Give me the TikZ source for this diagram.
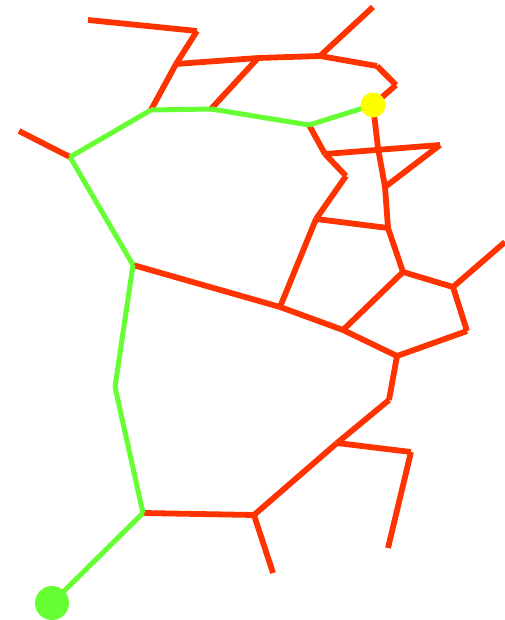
\documentclass[tikz,border=0pt]{standalone}
\begin{document}
\begin{tikzpicture}[x=1pt,y=-1pt,
  redline/.style={draw={rgb,255:red,255;green,51;blue,0},line width=5.8pt},
  greenline/.style={draw={rgb,255:red,102;green,255;blue,51},line width=5pt},
  dotnode/.style={circle,inner sep=0pt,draw=none}]
\useasboundingbox (0,0) rectangle (505,620);
\coordinate (a) at (88,20);
\coordinate (b) at (197,31);
\coordinate (c) at (176,64);
\coordinate (d) at (258,58);
\coordinate (e) at (151,110);
\coordinate (f) at (211,109);
\coordinate (g) at (309,125);
\coordinate (h) at (70,157);
\coordinate (i) at (19,131);
\coordinate (j) at (133,265);
\coordinate (k) at (115,387);
\coordinate (l) at (143,513);
\coordinate (n) at (254,515);
\coordinate (o) at (273,573);
\coordinate (p) at (337,443);
\coordinate (q) at (389,400);
\coordinate (r) at (411,452);
\coordinate (s) at (388,548);
\coordinate (t) at (397,356);
\coordinate (u) at (343,330);
\coordinate (v) at (467,331);
\coordinate (w) at (453,287);
\coordinate (xx) at (505,242);
\coordinate (yy) at (403,272);
\coordinate (z) at (388,228);
\coordinate (aa) at (316,219);
\coordinate (ab) at (280,307);
\coordinate (ac) at (346,176);
\coordinate (ad) at (325,154);
\coordinate (ae) at (440,145);
\coordinate (af) at (378,148);
\coordinate (ag) at (385,187);
\coordinate (ah) at (396,85);
\coordinate (ai) at (377,66);
\coordinate (aj) at (320,56);
\coordinate (ak) at (373,7);
\coordinate (Yc) at (373,105);
\coordinate (Gc) at (52,603);
% red segments
\foreach \s/\t in {a/b,b/c,c/d,c/e,d/f,i/h,j/ab,ab/u,l/n,n/o,n/p,p/q,p/r,r/s,q/t,t/u,t/v,v/w,w/xx,w/yy,yy/u,yy/z,z/aa,aa/ab,aa/ac,ac/ad,ad/g,ad/ae,ae/ag,Yc/af,af/ag,ag/z,Yc/ah,ah/ai,ai/aj,aj/d,aj/ak}
  \path[redline] (\s) -- (\t);
% green segments
\foreach \s/\t in {e/f,f/g,g/Yc,e/h,h/j,j/k,k/l,l/Gc}
  \path[greenline] (\s) -- (\t);
\node[dotnode,fill={rgb,255:red,255;green,255;blue,0},minimum size=25pt] (yellow) at (Yc) {};
\node[dotnode,fill={rgb,255:red,102;green,255;blue,51},minimum size=34pt] (green) at (Gc) {};
\end{tikzpicture}
\end{document}
